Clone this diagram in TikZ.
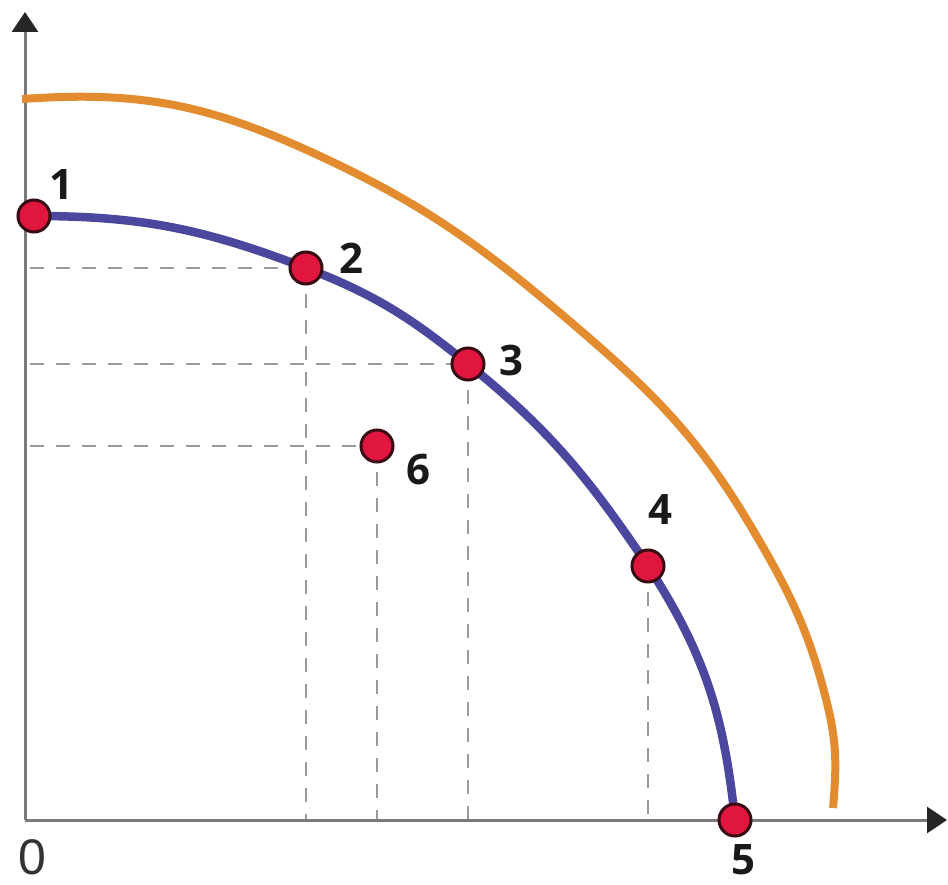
\documentclass[tikz,border=0pt]{standalone}
\usepackage{fontspec}
\setmainfont{Liberation Sans}
\newfontfamily\labfont{Open Sans}
\usetikzlibrary{arrows.meta}
\definecolor{ppfblue}{HTML}{4B479F}
\definecolor{ppforange}{HTML}{E38B2F}
\definecolor{ptred}{HTML}{E0163F}
\definecolor{ptedge}{HTML}{3B0B14}
\definecolor{axisgray}{HTML}{7A7A7A}
\definecolor{dashgray}{HTML}{9A9A9A}
\tikzset{
  axisline/.style={draw=axisgray, line width=3pt, -{Triangle[length=20pt,width=26pt,color=black!85]}},
  guide/.style={draw=dashgray, line width=2.5pt, dash pattern=on 14pt off 12pt},
  ppf/.style={draw=ppfblue, line width=8.5pt},
  ppfnew/.style={draw=ppforange, line width=8pt},
  pt/.style={circle, fill=ptred, draw=ptedge, line width=3pt, minimum size=32pt, inner sep=0pt},
  lab/.style={font=\labfont\bfseries\fontsize{42}{42}\selectfont, text=black!90, inner sep=0pt},
  zerolab/.style={font=\fontsize{50}{50}\selectfont, text=black!80, inner sep=0pt}
}
\begin{document}
\begin{tikzpicture}[x=1pt,y=-1pt]
\useasboundingbox[fill=white] (0,0) rectangle (948,885);
% coordinates
\coordinate (O) at (25,820);
\coordinate (ytip) at (25,12);
\coordinate (xtip) at (947,820);
\coordinate (c1) at (34,216);
\coordinate (c2) at (306,268);
\coordinate (c3) at (468,364);
\coordinate (c4) at (648,566);
\coordinate (c5) at (735,820);
\coordinate (c6) at (377,446);
\coordinate (h2) at (30,268);
\coordinate (h3) at (30,364);
\coordinate (h6) at (30,446);
\coordinate (v2) at (306,820);
\coordinate (v3) at (468,820);
\coordinate (v4) at (648,820);
\coordinate (v6) at (377,820);
\coordinate (o1) at (22,99);
\coordinate (o2) at (300,147);
\coordinate (o3) at (580,330);
\coordinate (o4) at (753,530);
\coordinate (o5) at (827,703);
\coordinate (o6) at (833,808);
% dashed guides
\draw[guide] (h2) -- (c2);
\draw[guide] (c2) -- (v2);
\draw[guide] (h3) -- (c3);
\draw[guide] (c3) -- (v3);
\draw[guide] (h6) -- (c6);
\draw[guide] (c6) -- (v6);
\draw[guide] (c4) -- (v4);
% axes
\draw[axisline] (O) -- (ytip);
\draw[axisline] (O) -- (xtip);
% orange curve
\draw[ppfnew] (o1) to[out=4,in=156] (o2) to[out=-24,in=139.3] (o3)
  to[out=-40.7,in=120.5] (o4) to[out=-59.5,in=104] (o5) to[out=-76,in=85] (o6);
% blue curve
\draw[ppf] (c1) to[out=0,in=159] (c2) to[out=-21,in=141] (c3)
  to[out=-39,in=124] (c4) to[out=-57,in=96] (c5);
% points
\node[pt] (p1) at (c1) {};
\node[pt] (p2) at (c2) {};
\node[pt] (p3) at (c3) {};
\node[pt] (p4) at (c4) {};
\node[pt] (p5) at (c5) {};
\node[pt] (p6) at (c6) {};
% labels
\node[lab] (l1) at (61,185) {1};
\node[lab] (l2) at (351,258) {2};
\node[lab] (l3) at (511,360) {3};
\node[lab] (l4) at (660,510) {4};
\node[lab] (l5) at (743,860) {5};
\node[lab] (l6) at (418,470) {6};
\node[zerolab] (l0) at (32,857) {0};
\end{tikzpicture}
\end{document}
